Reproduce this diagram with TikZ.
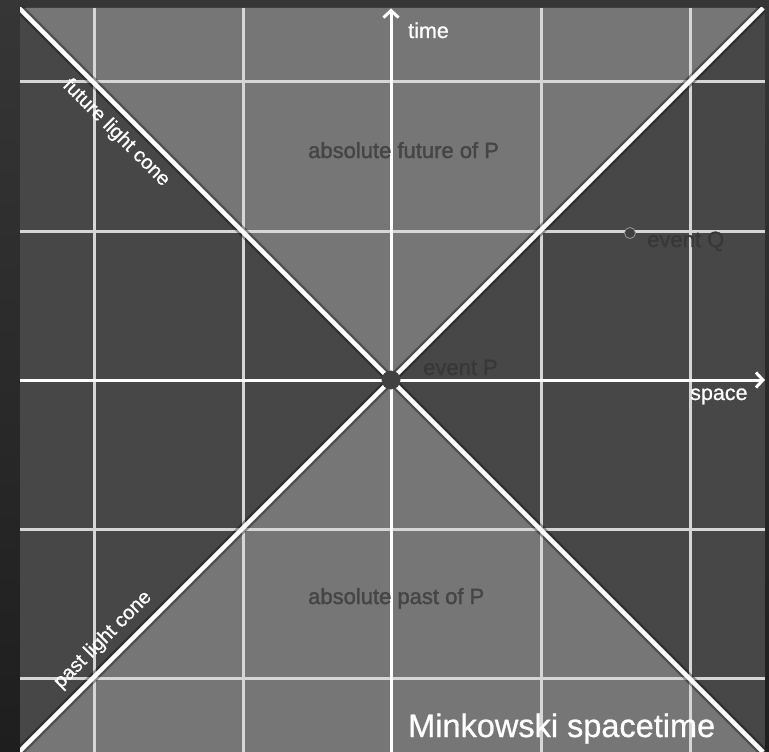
\documentclass[tikz,border=0pt]{standalone}
\usepackage{fontspec}
\setmainfont{Liberation Sans}
\newfontfamily\softfont[FakeBold=1.6]{Liberation Sans}
\newfontfamily\whitefont[FakeBold=0.8]{Liberation Sans}
\usetikzlibrary{arrows.meta}
\definecolor{bgtop}{HTML}{363636}
\definecolor{bgbot}{HTML}{1E1E1E}
\definecolor{darkreg}{HTML}{474747}
\definecolor{lightreg}{HTML}{767676}
\definecolor{gridc}{HTML}{D6D6D6}
\definecolor{dtextL}{HTML}{454545}
\definecolor{dtextD}{HTML}{383838}
\tikzset{
  gridline/.style={gridc, line width=3pt},
  coneshadow/.style={black, opacity=.35, line width=9pt},
  coneline/.style={white, line width=4.5pt},
  axisline/.style={white, line width=3pt, -{Straight Barb[length=7pt,width=15pt,line width=3pt]}},
  wlabel/.style={text=white, inner sep=0pt, font=\whitefont\fontsize{21.5}{26}\selectfont},
  dlabel/.style={inner sep=0pt, anchor=base west, font=\softfont\fontsize{22}{26}\selectfont},
  eventdot/.style={circle, fill=darkreg!90!black, draw=black!75, line width=.8pt, inner sep=0pt},
}
\begin{document}
\begin{tikzpicture}[x=1pt,y=-1pt]
\useasboundingbox (0,0) rectangle (769,752);
\shade[top color=bgtop, bottom color=bgbot] (0,0) rectangle (769,752);
\coordinate (TL) at (20,8);
\coordinate (BR) at (765,752);
\coordinate (P) at (391,380);
\coordinate (FL) at (19,8);
\coordinate (FR) at (763,8);
\coordinate (PL) at (19,752);
\coordinate (PR) at (763,752);
\begin{scope}
  \clip (TL) rectangle (BR);
  \fill[darkreg] (TL) rectangle (BR);
  \fill[lightreg] (FL) -- (FR) -- (P) -- cycle;
  \fill[lightreg] (P) -- (PL) -- (PR) -- cycle;
  \foreach \x in {94,243,541,690} \draw[gridline] (\x,8) -- (\x,752);
  \foreach \y in {82,231,529,678} \draw[gridline] (20,\y) -- (765,\y);
  \draw[coneshadow] (FL) -- (PR);
  \draw[coneshadow] (FR) -- (PL);
  \draw[coneline] (FL) -- (PR);
  \draw[coneline] (FR) -- (PL);
\end{scope}
\coordinate (tb) at (391,752);
\coordinate (tt) at (391,8.5);
\coordinate (sl) at (20,380);
\coordinate (sr) at (765,380);
\draw[axisline] (tb) -- (tt);
\draw[axisline] (sl) -- (sr);
% event dots
\node[eventdot, minimum size=18pt] (dotP) at (P) {};
\node[eventdot, draw=white!45!darkreg, minimum size=11pt] (dotQ) at (630,233) {};
% dark labels
\node[dlabel, text=dtextD] (labP) at (423,375) {event P};
\node[dlabel, text=dtextD] (labQ) at (647,247) {event Q};
\node[dlabel, text=dtextL] (labF) at (308,158) {absolute future of P};
\node[dlabel, text=dtextL] (labPa) at (308,604) {absolute past of P};
% white labels
\node[wlabel, anchor=base west] (time) at (408,38) {time};
\node[wlabel, anchor=base west] (space) at (690,400) {space};
\node[wlabel, rotate=-45, font=\whitefont\fontsize{20}{24}\selectfont] (flc) at (116,133) {future light cone};
\node[wlabel, rotate=45, font=\whitefont\fontsize{20}{24}\selectfont] (plc) at (103,640) {past light cone};
\node[wlabel, anchor=base west, font=\whitefont\fontsize{32.5}{38}\selectfont] (title) at (408,737) {Minkowski spacetime};
\end{tikzpicture}
\end{document}
